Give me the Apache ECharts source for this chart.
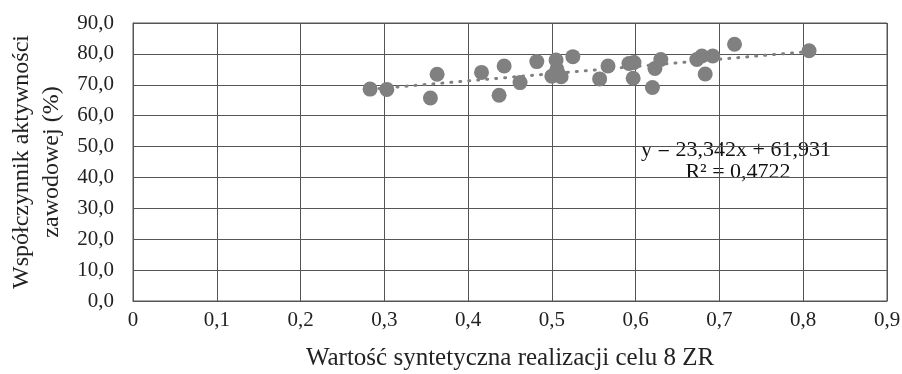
<!DOCTYPE html>
<html>
<head>
<meta charset="utf-8">
<script src="https://cdn.jsdelivr.net/npm/echarts@6/dist/echarts.min.js"></script>
<style>
  html, body { margin: 0; padding: 0; background: #fff; }
  #chart { width: 902px; height: 374px; }
</style>
</head>
<body>
<div id="chart"></div>
<script>
// values
var xValues = [0.283, 0.303, 0.363, 0.355, 0.416, 0.443, 0.437, 0.462, 0.482, 0.505,
               0.506, 0.500, 0.511, 0.525, 0.557, 0.567, 0.592, 0.598, 0.597, 0.623,
               0.630, 0.620, 0.673, 0.679, 0.692, 0.683, 0.718, 0.807];
var yValues = [68.6, 68.5, 73.4, 65.7, 74.0, 76.1, 66.6, 70.7, 77.5, 78.0,
               75.0, 72.8, 72.6, 79.1, 71.9, 76.1, 76.9, 77.2, 72.1, 75.3,
               78.2, 69.1, 78.2, 79.3, 79.3, 73.5, 83.1, 81.0];
var trendSlope = 23.342;
var trendIntercept = 61.931;
var trendLabel = ['y = 23,342x + 61,931', 'R² = 0,4722'];

var points = xValues.map(function (x, i) { return [x, yValues[i]]; });
var xMin = Math.min.apply(null, xValues);
var xMax = Math.max.apply(null, xValues);
var trend = [[xMin, trendSlope * xMin + trendIntercept], [xMax, trendSlope * xMax + trendIntercept]];

var font = 'Liberation Serif';
var gridColor = '#555';

var myChart = echarts.init(document.getElementById('chart'));
myChart.setOption({
    animation: false,
    textStyle: { fontFamily: font },
    grid: {
        left: 133, right: 15, top: 23, bottom: 73,
        outerBoundsMode: 'none', containLabel: false,
        show: true, borderColor: gridColor, borderWidth: 1
    },
    xAxis: {
        type: 'value', min: 0, max: 0.9, interval: 0.1,
        name: 'Wartość syntetyczna realizacji celu 8 ZR',
        nameLocation: 'middle', nameGap: 45,
        nameTextStyle: { fontFamily: font, fontSize: 25, color: '#222' },
        axisLine: { lineStyle: { color: gridColor } },
        axisTick: { show: false },
        splitLine: { lineStyle: { color: gridColor, width: 1 } },
        axisLabel: {
            fontFamily: font, fontSize: 21, color: '#222', margin: 9,
            formatter: function (v) { return v === 0 ? '0' : v.toFixed(1).replace('.', ','); }
        }
    },
    yAxis: {
        type: 'value', min: 0, max: 90, interval: 10,
        name: 'Współczynnik aktywności\nzawodowej (%)',
        nameLocation: 'middle', nameGap: 65, nameRotate: 90,
        nameTextStyle: { fontFamily: font, fontSize: 24, color: '#222', lineHeight: 30 },
        axisLine: { show: true, lineStyle: { color: gridColor } },
        axisTick: { show: false },
        splitLine: { lineStyle: { color: gridColor, width: 1 } },
        axisLabel: {
            fontFamily: font, fontSize: 21, color: '#222', margin: 19,
            formatter: function (v) { return v.toFixed(1).replace('.', ','); }
        }
    },
    series: [
        {
            type: 'line',
            data: trend,
            symbol: 'none',
            lineStyle: { color: '#808080', width: 3, type: [1, 8], cap: 'round' },
            z: 3
        },
        {
            type: 'scatter',
            data: points,
            symbolSize: 15,
            itemStyle: { color: '#808080', opacity: 1 },
            z: 4
        }
    ],
    graphic: [
        {
            type: 'text', x: 736, y: 150,
            style: { text: trendLabel[0], font: '22px "Liberation Serif"', fill: '#111', align: 'center', verticalAlign: 'middle' }
        },
        {
            type: 'text', x: 738, y: 172,
            style: { text: trendLabel[1], font: '22px "Liberation Serif"', fill: '#111', align: 'center', verticalAlign: 'middle' }
        }
    ]
});
</script>
</body>
</html>
